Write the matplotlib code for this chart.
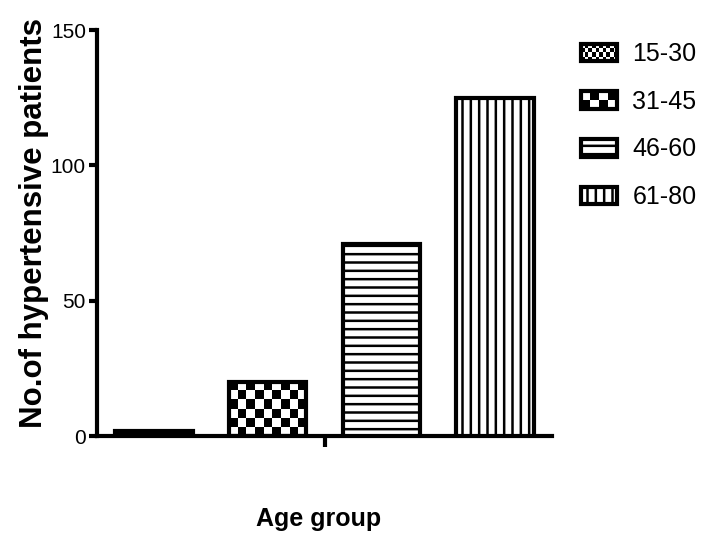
import numpy as np
import matplotlib
matplotlib.use("Agg")
import matplotlib.pyplot as plt
from matplotlib.patches import Rectangle, Patch
from matplotlib.legend_handler import HandlerBase

# data
age_groups = ["15-30", "31-45", "46-60", "61-80"]
patients = [2, 20, 71, 125]
y_ticks = [0, 50, 100, 150]

narrow = ["Liberation Sans Narrow", "Liberation Sans", "DejaVu Sans"]
plt.rcParams["font.family"] = narrow
plt.rcParams["hatch.linewidth"] = 1.8


class CheckerHandler(HandlerBase):
    """legend box filled with a black/white checkerboard"""
    def __init__(self, ncols, nrows):
        super().__init__()
        self.ncols = ncols
        self.nrows = nrows

    def create_artists(self, legend, orig_handle, xdescent, ydescent,
                       width, height, fontsize, trans):
        x0, y0 = -xdescent, -ydescent
        arts = [Rectangle((x0, y0), width, height, facecolor="white",
                          edgecolor="none", transform=trans)]
        cw = width / self.ncols
        ch = height / self.nrows
        for i in range(self.ncols):
            for j in range(self.nrows):
                if (i + j) % 2 == 0:
                    arts.append(Rectangle((x0 + i * cw, y0 + j * ch), cw, ch,
                                          facecolor="black", edgecolor="none",
                                          transform=trans))
        arts.append(Rectangle((x0, y0), width, height, facecolor="none",
                              edgecolor="black", lw=3, transform=trans))
        return arts


fig = plt.figure(figsize=(7.12, 5.48), dpi=100)
ax = fig.add_axes([97 / 712, 1 - 436 / 548, 455 / 712, 406 / 548])

x = np.arange(len(age_groups))
hatches = ["xxxxxxxx", "", "--", "||"]
bars = ax.bar(x, patients, width=0.68, color="white", edgecolor="black",
              linewidth=3, hatch=hatches, zorder=3)

# checkerboard for 31-45 bar
b = bars[1]
b.set_facecolor("none")
ncols, nrows = 9, 6
board = np.indices((nrows, ncols)).sum(axis=0) % 2
img = ax.imshow(board, cmap="gray_r", interpolation="nearest", aspect="auto",
                extent=[b.get_x(), b.get_x() + b.get_width(), 0, b.get_height()],
                origin="lower", zorder=2)
img.set_clip_path(b)

ax.set_xlim(-0.5, 3.5)
ax.set_ylim(0, 150)
ax.set_yticks(y_ticks)
ax.set_xticks([1.5])
ax.set_xticklabels([""])
ax.tick_params(axis="y", length=6, width=3, labelsize=15, pad=2)
ax.tick_params(axis="x", length=8, width=3)

for side in ["top", "right"]:
    ax.spines[side].set_visible(False)
for side in ["left", "bottom"]:
    ax.spines[side].set_linewidth(3)

ax.set_ylabel("No.of hypertensive patients", fontsize=22.5, fontweight="bold")
ax.yaxis.set_label_coords(-0.105, 0.525)
ax.set_xlabel("Age group", fontsize=18, fontweight="bold")
ax.xaxis.set_label_coords(0.486, -0.175)

handles = [Patch(facecolor="white", edgecolor="black", lw=3, hatch=h)
           for h in ["xxxx", "", "--", "||"]]
fig.legend(handles, age_groups, loc="upper left",
           bbox_to_anchor=(581 / 712, 1 - 42 / 548), frameon=False,
           fontsize=18, handlelength=1.45, handleheight=0.7,
           handletextpad=0.6, labelspacing=0.95, borderpad=0, borderaxespad=0,
           handler_map={handles[0]: CheckerHandler(10, 4),
                        handles[1]: CheckerHandler(4, 2)})

fig.savefig("out.png", dpi=100)
